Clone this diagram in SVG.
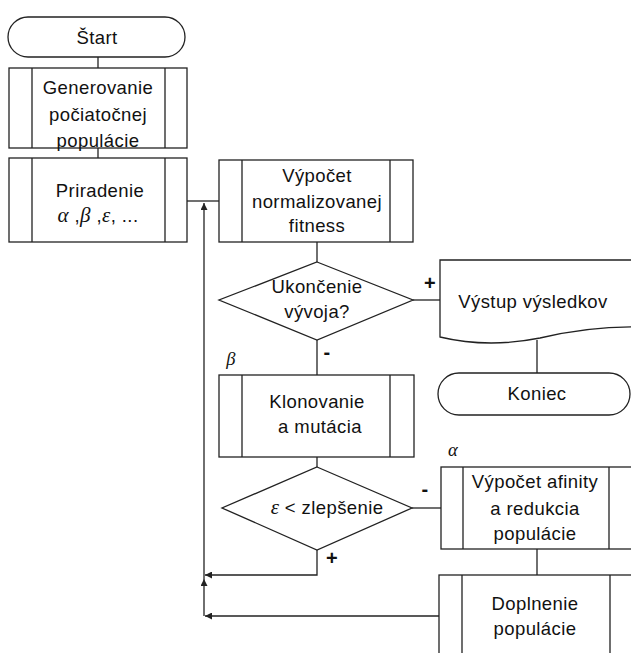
<svg xmlns="http://www.w3.org/2000/svg" width="631" height="653" viewBox="0 0 631 653">
<style>
.s{fill:#fff;stroke:#222;stroke-width:1.3}
.l{fill:none;stroke:#222;stroke-width:1.3}
text{font-family:"Liberation Sans",Arial,sans-serif;font-size:18.5px;fill:#111;text-anchor:middle;letter-spacing:0.4px}
.g{font-family:"Liberation Serif","Times New Roman",serif;font-style:italic}
.b{font-weight:bold;font-size:20px}
</style>
<defs>
<marker id="ah" viewBox="0 0 10 10" refX="10" refY="5" markerWidth="7" markerHeight="7" markerUnits="userSpaceOnUse" orient="auto">
<path d="M0,0 L10,5 L0,10 z" fill="#222"/>
</marker>
</defs>
<rect width="631" height="653" fill="#fff"/>
<g id="connectors">
<path class="l" d="M98,57 V68"/>
<path class="l" d="M98,148 V158"/>
<path class="l" d="M187,201 H219"/>
<path class="l" d="M317,242 V262"/>
<path class="l" d="M413,300 H440"/>
<path class="l" d="M537,340 V373"/>
<path class="l" d="M317,340 V375"/>
<path class="l" d="M317,457 V467"/>
<path class="l" d="M412,508 H441"/>
<path class="l" d="M537,549 V575"/>
<path class="l" d="M317,550 V575 H205" marker-end="url(#ah)"/>
<path class="l" d="M439,616 H205" marker-end="url(#ah)"/>
<path class="l" d="M204,616 V579" marker-end="url(#ah)"/>
<path class="l" d="M204,579 V203" marker-end="url(#ah)"/>
<text class="b" x="327" y="359">-</text>
<text class="b" x="430" y="290">+</text>
<text class="b" x="425" y="496">-</text>
<text class="b" x="332" y="565">+</text>
</g>
<g id="start">
<rect class="s" x="8" y="17" width="177" height="40" rx="20" ry="20"/>
<text x="97" y="44">Štart</text>
</g>
<g id="generovanie">
<rect class="s" x="9" y="68" width="178" height="80"/>
<path class="l" d="M32,68 V148 M165,68 V148"/>
<text x="98" y="94">Generovanie</text>
<text x="98" y="121">počiatočnej</text>
<text x="98" y="147">populácie</text>
</g>
<g id="priradenie">
<rect class="s" x="9" y="158" width="178" height="84"/>
<path class="l" d="M32,158 V242 M165,158 V242"/>
<text x="100" y="197">Priradenie</text>
<text x="98" y="222"><tspan class="g" font-size="21">α</tspan> ,<tspan class="g" font-size="21">β</tspan> ,<tspan class="g" font-size="21">ε</tspan>, ...</text>
</g>
<g id="fitness">
<rect class="s" x="219" y="160" width="194" height="82"/>
<path class="l" d="M242,160 V242 M390,160 V242"/>
<text x="317" y="182">Výpočet</text>
<text x="317" y="208">normalizovanej</text>
<text x="317" y="232">fitness</text>
</g>
<g id="ukoncenie">
<path class="s" d="M317,262 L413,300 L317,340 L219,300 Z"/>
<text x="317" y="293">Ukončenie</text>
<text x="317" y="318">vývoja?</text>
</g>
<g id="vystup">
<path class="s" d="M440,260 H640 V327 C600,326 570,331 540,338 C500,346 465,343 440,337 Z"/>
<text x="533" y="308">Výstup výsledkov</text>
</g>
<g id="koniec">
<rect class="s" x="438" y="373" width="192" height="42" rx="21" ry="21"/>
<text x="537" y="400">Koniec</text>
</g>
<g id="klonovanie">
<text class="g" x="231" y="365" font-size="20">β</text>
<rect class="s" x="219" y="375" width="195" height="82"/>
<path class="l" d="M242,375 V457 M390,375 V457"/>
<text x="317" y="408">Klonovanie</text>
<text x="320" y="433">a mutácia</text>
</g>
<g id="zlepsenie">
<path class="s" d="M317,467 L412,508 L317,550 L222,508 Z"/>
<text x="327" y="514"><tspan class="g" font-size="21">ε</tspan> &lt; zlepšenie</text>
</g>
<g id="afinita">
<text class="g" x="453" y="456" font-size="19">α</text>
<rect class="s" x="441" y="467" width="200" height="82"/>
<path class="l" d="M463,467 V549 M609,467 V549"/>
<text x="535" y="488">Výpočet afinity</text>
<text x="535" y="515">a redukcia</text>
<text x="535" y="540">populácie</text>
</g>
<g id="doplnenie">
<rect class="s" x="439" y="575" width="200" height="90"/>
<path class="l" d="M462,575 V660 M610,575 V660"/>
<text x="535" y="610">Doplnenie</text>
<text x="535" y="635">populácie</text>
</g>
</svg>
